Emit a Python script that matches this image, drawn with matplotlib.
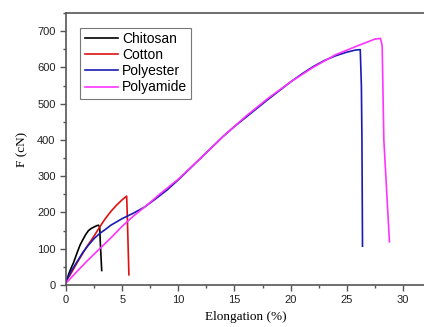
import matplotlib
matplotlib.use("Agg")
import matplotlib.pyplot as plt
from matplotlib.ticker import MultipleLocator

chitosan_x = [0, 0.15, 0.3, 0.5, 0.65, 0.85, 1.0, 1.25, 1.5, 1.75, 2.0, 2.25, 2.5, 2.7, 2.88, 3.0, 3.05, 3.18]
chitosan_y = [10, 22, 35, 50, 60, 77, 90, 110, 125, 139, 150, 156, 160, 163, 165, 160, 120, 40]

cotton_x = [0, 0.5, 1.0, 1.84, 2.5, 3.0, 3.5, 4.0, 4.5, 5.0, 5.4, 5.45, 5.6]
cotton_y = [10, 35, 62, 105, 135, 160, 183, 203, 220, 235, 245, 200, 28]

polyester_x = [0, 0.5, 1, 1.5, 2, 2.5, 3, 3.5, 4, 5, 6, 7, 8, 9, 10, 11, 12, 13, 14,
               15, 16, 17, 18, 19, 20, 21, 22, 23, 24, 25, 25.8, 26.2, 26.3, 26.35, 26.4]
polyester_y = [10, 40, 65, 90, 110, 128, 142, 153, 165, 183, 198, 215, 238, 262, 290,
               320, 350, 380, 410, 437, 462, 487, 512, 536, 560, 582, 602, 619, 632,
               642, 648, 649, 550, 400, 107]

polyamide_x = [0, 1, 2, 3, 4, 5, 6, 7, 7.5, 8.4, 10, 12, 14, 16, 18, 20, 22, 24, 26,
               27, 27.5, 28.0, 28.15, 28.3, 28.8]
polyamide_y = [5, 38, 70, 100, 130, 162, 190, 215, 228, 252, 292, 350, 410, 465, 515,
               560, 600, 635, 660, 672, 678, 680, 660, 400, 119]

fig = plt.figure(figsize=(4.24, 3.27), dpi=100)
ax = fig.add_axes([66/424, 42/327, 359.4/424, 272/327])

lw = 1.2
ax.plot(chitosan_x, chitosan_y, color="black", lw=lw, label="Chitosan")
ax.plot(cotton_x, cotton_y, color="#e01010", lw=lw, label="Cotton")
ax.plot(polyester_x, polyester_y, color="#1a1ab4", lw=lw, label="Polyester")
ax.plot(polyamide_x, polyamide_y, color="#ff33ff", lw=lw, label="Polyamide")

ax.set_xlim(0, 32)
ax.set_ylim(0, 750)
ax.xaxis.set_major_locator(MultipleLocator(5))
ax.xaxis.set_minor_locator(MultipleLocator(2.5))
ax.yaxis.set_major_locator(MultipleLocator(100))
ax.yaxis.set_minor_locator(MultipleLocator(50))
ax.tick_params(which="major", direction="out", length=4, width=1, color="#555555",
               labelsize=8, labelcolor="#222222")
ax.tick_params(which="minor", direction="out", length=2, width=1, color="#555555")
for lab in ax.get_xticklabels() + ax.get_yticklabels():
    lab.set_fontfamily("Liberation Sans")
for s in ax.spines.values():
    s.set_color("#555555")
    s.set_linewidth(1.2)

ax.set_xlabel("Elongation (%)", fontfamily="Liberation Serif", fontsize=9.5, labelpad=4)
ax.set_ylabel("F (cN)", fontfamily="Liberation Serif", fontsize=9.5, labelpad=6)

leg = ax.legend(loc="upper left", bbox_to_anchor=(0.04, 0.945), prop={"family": "Liberation Sans", "size": 10},
                frameon=True, fancybox=False, edgecolor="#555555", borderpad=0.3,
                handlelength=2.4, handletextpad=0.3, labelspacing=0.15, borderaxespad=0)
leg.get_frame().set_linewidth(0.8)

fig.savefig("out.png", dpi=100)
